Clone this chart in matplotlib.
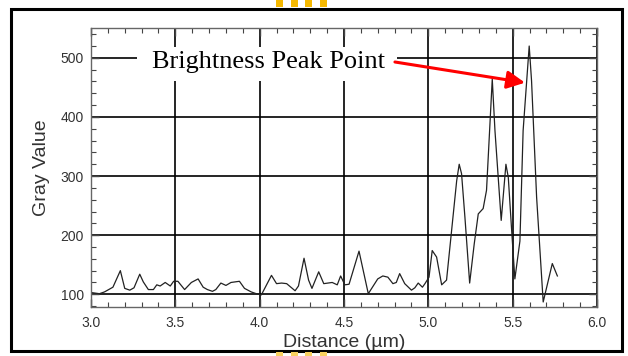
import matplotlib
matplotlib.use("Agg")
import matplotlib.pyplot as plt
from matplotlib.patches import Rectangle
from matplotlib.ticker import MultipleLocator

plt.rcParams['font.family'] = ['Liberation Sans', 'DejaVu Sans']

# values (distance in um, gray value)
distance = [3.00, 3.05, 3.08, 3.13, 3.174, 3.20, 3.23, 3.255, 3.289, 3.31,
            3.34, 3.37, 3.39, 3.41, 3.44, 3.47, 3.49, 3.515, 3.555, 3.595,
            3.635, 3.665, 3.69, 3.72, 3.74, 3.77, 3.80, 3.83, 3.88, 3.91,
            3.95, 3.98, 4.00, 4.01, 4.07, 4.10, 4.13, 4.16, 4.21, 4.23,
            4.263, 4.29, 4.31, 4.35, 4.38, 4.43, 4.46, 4.48, 4.505, 4.53,
            4.589, 4.644, 4.70, 4.73, 4.76, 4.79, 4.81, 4.83, 4.86, 4.90,
            4.92, 4.94, 4.965, 4.98, 5.004, 5.023, 5.049, 5.079, 5.108, 5.168,
            5.183, 5.197, 5.217, 5.245, 5.272, 5.296, 5.325, 5.345, 5.379, 5.395,
            5.432, 5.46, 5.474, 5.494, 5.513, 5.543, 5.562, 5.598, 5.612, 5.642,
            5.681, 5.735, 5.765]
gray = [103, 101, 104, 112, 140, 110, 107, 111, 134, 121,
        108, 108, 116, 114, 120, 114, 122, 122, 108, 120,
        126, 112, 108, 105, 108, 119, 115, 120, 122, 110,
        104, 101, 100, 99, 132, 118, 119, 118, 106, 114,
        161, 124, 110, 138, 118, 120, 116, 131, 116, 117,
        173, 101, 126, 131, 129, 118, 120, 135, 118, 107,
        111, 119, 112, 118, 129, 174, 163, 116, 124, 292,
        320, 304, 230, 119, 185, 236, 245, 276, 464, 377,
        225, 320, 298, 208, 126, 190, 377, 520, 461, 264,
        87, 152, 131]

x_ticks = [3.0, 3.5, 4.0, 4.5, 5.0, 5.5, 6.0]
y_ticks = [100, 200, 300, 400, 500]

W, H = 628, 356
fig = plt.figure(figsize=(W / 100, H / 100), dpi=100)
ax = fig.add_axes([91 / W, 1 - 306.7 / H, (597 - 91) / W, (306.7 - 28.3) / H])

ax.plot(distance, gray, color='#222222', lw=0.9, zorder=2)

ax.set_xlim(3.0, 6.0)
ax.set_ylim(79, 550)
ax.set_xticks(x_ticks)
ax.set_xticklabels(["%.1f" % v for v in x_ticks])
ax.set_yticks(y_ticks)
ax.xaxis.set_minor_locator(MultipleLocator(0.1))
ax.yaxis.set_minor_locator(MultipleLocator(20))
ax.grid(True, which='major', color='black', lw=1.2)

ax.tick_params(which='both', direction='in', top=True, right=True,
               color='#444444', labelcolor='#333333', labelsize=10)
ax.tick_params(which='major', length=6, width=1)
ax.tick_params(axis='x', which='major', pad=7)
ax.tick_params(axis='y', which='major', pad=5)
ax.tick_params(which='minor', length=3.5, width=0.8)
for s in ax.spines.values():
    s.set_color('#666666')
    s.set_linewidth(1)

ax.set_xlabel('Distance (µm)', fontsize=14, color='#333333', labelpad=2.5)
ax.set_ylabel('Gray Value', fontsize=14, color='#333333', labelpad=8)

# white box behind the note, then the note and arrow
ax.add_patch(Rectangle((3.273, 460), 1.541, 58, facecolor='white',
                       edgecolor='none', zorder=4))
ax.text(4.055, 482, 'Brightness Peak Point', family=['Liberation Serif'],
        fontsize=19, ha='center', va='baseline', zorder=5)
ax.annotate('', xy=(5.573, 458), xytext=(4.802, 493), zorder=6,
            arrowprops=dict(arrowstyle='-|>,head_length=0.6,head_width=0.3',
                            color='red', lw=2.2, mutation_scale=18,
                            shrinkA=0, shrinkB=0))

# outer frame and the yellow marks at top and bottom
fig.patches.append(Rectangle((11 / W, 1 - 351 / H), 611 / W, 342 / H,
                             transform=fig.transFigure, fill=False,
                             edgecolor='black', lw=2.2))
for x0 in [276, 291, 305, 320]:
    fig.patches.append(Rectangle((x0 / W, 1 - 7 / H), 7 / W, 7 / H,
                                 transform=fig.transFigure,
                                 facecolor='#f5b800', edgecolor='none'))
    fig.patches.append(Rectangle((x0 / W, 0), 7 / W, 4 / H,
                                 transform=fig.transFigure,
                                 facecolor='#f8d060', edgecolor='none'))

fig.savefig('out.png', dpi=100)
